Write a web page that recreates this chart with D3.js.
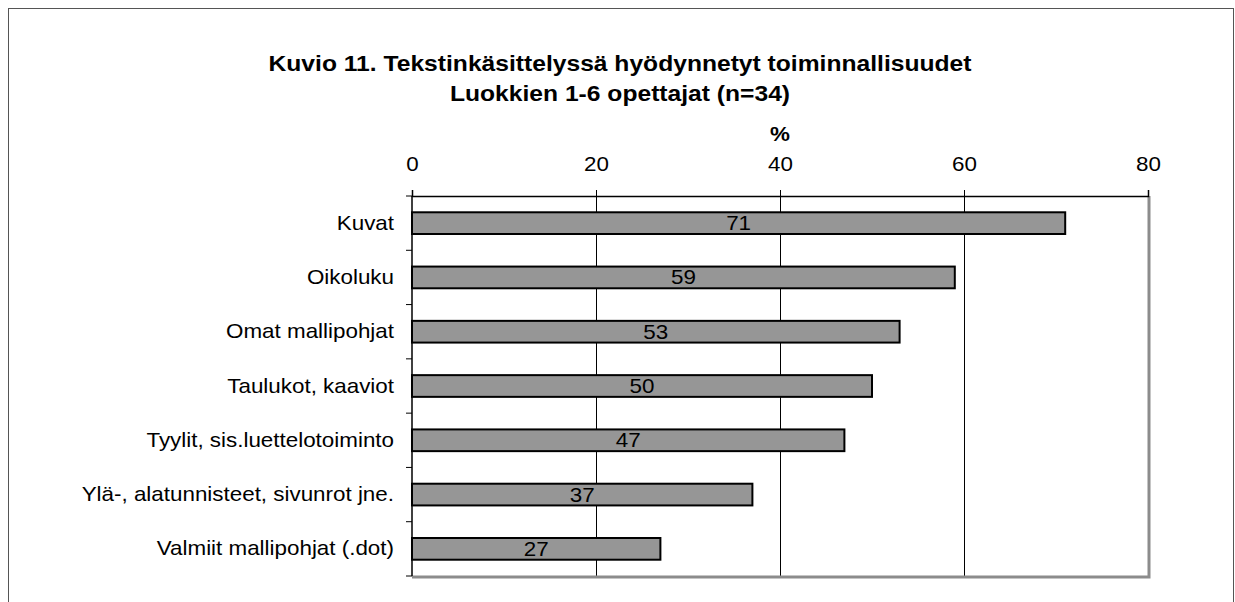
<!DOCTYPE html>
<html>
<head>
<meta charset="utf-8">
<script src="https://cdn.jsdelivr.net/npm/d3@7"></script>
<style>
  body { margin: 0; background: #fff; }
  text { font-family: "Liberation Sans", Arial, sans-serif; fill: #000; }
</style>
</head>
<body>
<div id="viz"></div>
<script>
// data
var categories = ["Kuvat", "Oikoluku", "Omat mallipohjat", "Taulukot, kaaviot",
    "Tyylit, sis.luettelotoiminto", "Ylä-, alatunnisteet, sivunrot jne.", "Valmiit mallipohjat (.dot)"];
var values = [71, 59, 53, 50, 47, 37, 27];
var xTicks = [0, 20, 40, 60, 80];
var titleLines = ["Kuvio 11. Tekstinkäsittelyssä hyödynnetyt toiminnallisuudet", "Luokkien 1-6 opettajat (n=34)"];
var axisTitle = "%";

var W = 1235, H = 602;
var margin = {top: 196, right: 87, bottom: 26, left: 412},
    width = W - margin.left - margin.right,
    height = H - margin.top - margin.bottom;
var sx = 1.12; // the text in the original is a bit wider than it is tall

function place(px, py) {
    return "translate(" + px + "," + py + ") scale(" + sx + ",1)";
}

var svg = d3.select('#viz').append('svg')
    .attr("width", W)
    .attr("height", H);

// outer frame
svg.append("rect")
    .attr("x", 8.5).attr("y", 8.5)
    .attr("width", W - 10).attr("height", H + 20)
    .attr("fill", "none")
    .attr("stroke", "#555")
    .attr("stroke-width", 1);

svg.selectAll("text.title")
    .data(titleLines)
    .enter().append("text")
    .attr("class", "title")
    .attr("transform", function(d, i) { return place(620, 71 + i * 30); })
    .attr("text-anchor", "middle")
    .style("font-size", "22px")
    .style("font-weight", "bold")
    .text(function(d) { return d; });

var x = d3.scaleLinear()
    .domain([0, 80])
    .range([0, width]);

var y = d3.scaleBand()
    .domain(categories)
    .range([0, height])
    .paddingInner(0.6)
    .paddingOuter(0.3);

var g = svg.append("g")
    .attr("transform", "translate(" + margin.left + "," + margin.top + ")");

// gridlines
g.selectAll("line.grid")
    .data(xTicks.slice(1, -1))
    .enter().append("line")
    .attr("class", "grid")
    .attr("x1", function(d) { return x(d); })
    .attr("x2", function(d) { return x(d); })
    .attr("y1", 0).attr("y2", height)
    .attr("stroke", "#000")
    .attr("stroke-width", 1)
    .attr("shape-rendering", "crispEdges");

// gray right/bottom plot border
g.append("path")
    .attr("d", "M" + (width + 1) + ",0V" + (height + 1) + "H0")
    .attr("fill", "none")
    .attr("stroke", "#8c8c8c")
    .attr("stroke-width", 3);

// bars
g.selectAll("rect.bar")
    .data(values)
    .enter().append("rect")
    .attr("class", "bar")
    .attr("x", x(0))
    .attr("y", function(d, i) { return y(categories[i]); })
    .attr("width", function(d) { return x(d) - x(0); })
    .attr("height", y.bandwidth())
    .attr("fill", "#969696")
    .attr("stroke", "#000")
    .attr("stroke-width", 2);

g.selectAll("text.val")
    .data(values)
    .enter().append("text")
    .attr("class", "val")
    .attr("transform", function(d, i) {
        return place(x(d / 2), y(categories[i]) + y.bandwidth() / 2 + 7);
    })
    .attr("text-anchor", "middle")
    .style("font-size", "20px")
    .text(function(d) { return d; });

// top axis
var xAxis = g.append("g")
    .attr("class", "axis x")
    .call(d3.axisTop(x).tickValues(xTicks).tickSize(6).tickPadding(19));
xAxis.select(".domain").attr("stroke", "#000").attr("stroke-width", 1.5);
xAxis.selectAll(".tick text")
    .style("font-size", "20px")
    .style("font-family", "Liberation Sans, Arial, sans-serif")
    .attr("transform", "scale(" + sx + ",1)")
    .attr("x", function(d) { return 0; });

g.append("text")
    .attr("transform", place(x(40), -55))
    .attr("text-anchor", "middle")
    .style("font-size", "20px")
    .style("font-weight", "bold")
    .text(axisTitle);

// left axis: boundary ticks + labels
var step = height / categories.length;
g.append("line")
    .attr("x1", 0).attr("x2", 0).attr("y1", 0).attr("y2", height)
    .attr("stroke", "#000").attr("stroke-width", 1.5);
g.selectAll("line.ytick")
    .data(d3.range(categories.length + 1))
    .enter().append("line")
    .attr("class", "ytick")
    .attr("x1", -6).attr("x2", 0)
    .attr("y1", function(d) { return d * step; })
    .attr("y2", function(d) { return d * step; })
    .attr("stroke", "#000").attr("stroke-width", 1);

g.selectAll("text.cat")
    .data(categories)
    .enter().append("text")
    .attr("class", "cat")
    .attr("transform", function(d) { return place(-18, y(d) + y.bandwidth() / 2 + 6.5); })
    .attr("text-anchor", "end")
    .style("font-size", "20px")
    .text(function(d) { return d; });
</script>
</body>
</html>
